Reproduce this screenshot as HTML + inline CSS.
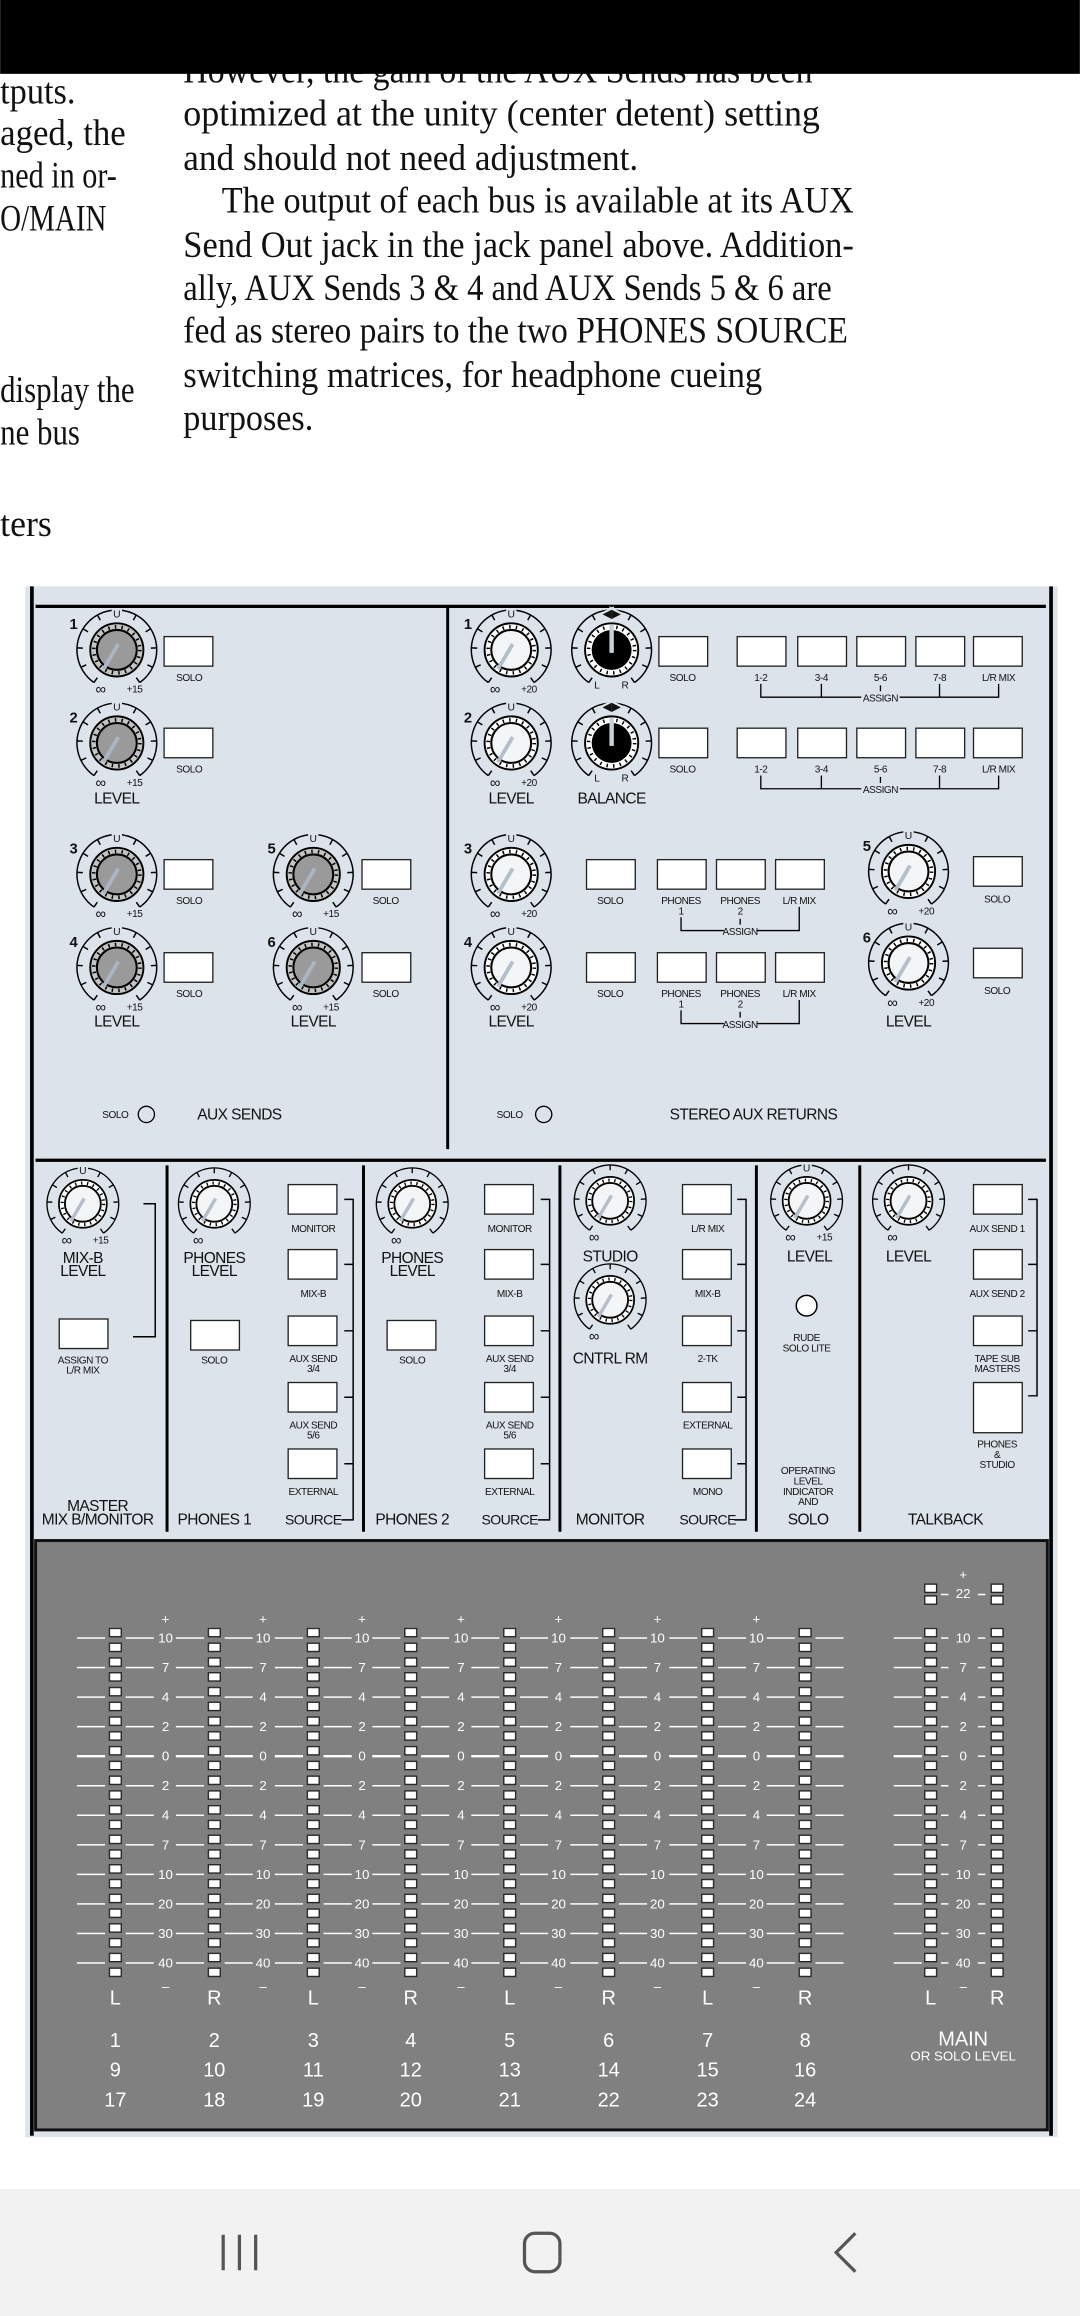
<!DOCTYPE html>
<html><head><meta charset="utf-8"><style>
html,body{margin:0;padding:0;background:#fff;}
svg{display:block;}
text{font-family:"Liberation Sans",sans-serif;}
.tx{font-family:"Liberation Serif",serif;font-size:25px;fill:#111;}
.s{font-size:6.8px;text-anchor:middle;fill:#111;letter-spacing:-0.3px;}
.m{font-size:10.5px;text-anchor:middle;fill:#111;letter-spacing:-0.4px;}
.n{font-size:10px;font-weight:bold;fill:#111;}
.u{font-size:7px;text-anchor:middle;fill:#111;paint-order:stroke;stroke:#dde3eb;stroke-width:3px;}
.w{font-size:9px;text-anchor:middle;fill:#fff;}
.wl{font-size:13.5px;text-anchor:middle;fill:#fff;}
</style></head><body>
<svg width="1080" height="2316" viewBox="0 0 731 1568" xmlns="http://www.w3.org/2000/svg">
<defs>
<g id="sc"><path d="M-15.5 22.1 A27 27 0 1 1 15.5 22.1" fill="none" stroke="#000" stroke-width="1"/><path d="M-13.2 18.8L-15.5 22.1M-20.7 10.1L-24.3 11.8M-23 -1.2L-27 -1.4M-19.5 -12.2L-22.9 -14.3M-11.2 -20.1L-13.1 -23.6M0 -23L0 -27M13.2 18.8L15.5 22.1M20.7 10.1L24.3 11.8M23 -1.2L27 -1.4M19.5 -12.2L22.9 -14.3M11.2 -20.1L13.1 -23.6" stroke="#000" stroke-width="1"/></g>
<g id="kg"><use href="#sc"/><circle r="18" fill="#c4c4c4" stroke="#000" stroke-width="1.3"/><circle r="15.6" fill="none" stroke="#000" stroke-width="2.4" stroke-dasharray="1 3.5"/><circle r="13.5" fill="#9a9a9a" stroke="#000" stroke-width="1.4"/><path d="M1 -4L-9 13" stroke="#a9b6c4" stroke-width="2.6"/></g>
<g id="kw"><use href="#sc"/><circle r="18" fill="#fff" stroke="#000" stroke-width="1.3"/><circle r="15.6" fill="none" stroke="#000" stroke-width="2.4" stroke-dasharray="1 3.5"/><circle r="13.5" fill="#f4f5f7" stroke="#000" stroke-width="1.4"/><path d="M1 -4L-9 13" stroke="#b4bfcb" stroke-width="2.6"/></g>
<g id="kb"><use href="#sc"/><circle r="18" fill="#fff" stroke="#000" stroke-width="1.3"/><circle r="15.6" fill="none" stroke="#000" stroke-width="2.4" stroke-dasharray="1 3.5"/><circle r="13.5" fill="#000"/><path d="M0 2L0 -17" stroke="#c8d0d8" stroke-width="3"/></g>
<pattern id="led" patternUnits="userSpaceOnUse" x="-4.5" y="1102" width="9" height="10"><rect x="0.5" y="0.5" width="8" height="5.6" fill="#fff" stroke="#222" stroke-width="0.9"/></pattern>
<pattern id="tk" patternUnits="userSpaceOnUse" x="0" y="1108.5" width="731" height="20"><rect x="0" y="0" width="731" height="1" fill="#fff"/></pattern>
</defs>

<!-- top text -->
<text class="tx" x="124" y="56" textLength="426" lengthAdjust="spacingAndGlyphs">However, the gain of the AUX Sends has been</text>
<rect x="0" y="0" width="731" height="50" fill="#000"/>
<text class="tx" x="0" y="70" textLength="51" lengthAdjust="spacingAndGlyphs">tputs.</text>
<text class="tx" x="0" y="98" textLength="85" lengthAdjust="spacingAndGlyphs">aged, the</text>
<text class="tx" x="0" y="127" textLength="79" lengthAdjust="spacingAndGlyphs">ned in or-</text>
<text class="tx" x="0" y="156" textLength="72" lengthAdjust="spacingAndGlyphs">O/MAIN</text>
<text class="tx" x="0" y="272" textLength="91" lengthAdjust="spacingAndGlyphs">display the</text>
<text class="tx" x="0" y="301" textLength="54" lengthAdjust="spacingAndGlyphs">ne bus</text>
<text class="tx" x="0" y="363" textLength="35" lengthAdjust="spacingAndGlyphs">ters</text>
<text class="tx" x="124" y="85" textLength="431" lengthAdjust="spacingAndGlyphs">optimized at the unity (center detent) setting</text>
<text class="tx" x="124" y="115" textLength="308" lengthAdjust="spacingAndGlyphs">and should not need adjustment.</text>
<text class="tx" x="150" y="144" textLength="428" lengthAdjust="spacingAndGlyphs">The output of each bus is available at its AUX</text>
<text class="tx" x="124" y="174" textLength="454" lengthAdjust="spacingAndGlyphs">Send Out jack in the jack panel above. Addition-</text>
<text class="tx" x="124" y="203" textLength="439" lengthAdjust="spacingAndGlyphs">ally, AUX Sends 3 &amp; 4 and AUX Sends 5 &amp; 6 are</text>
<text class="tx" x="124" y="232" textLength="450" lengthAdjust="spacingAndGlyphs">fed as stereo pairs to the two PHONES SOURCE</text>
<text class="tx" x="124" y="262" textLength="392" lengthAdjust="spacingAndGlyphs">switching matrices, for headphone cueing</text>
<text class="tx" x="124" y="291" textLength="88" lengthAdjust="spacingAndGlyphs">purposes.</text>

<!-- panel -->
<rect x="17" y="397" width="699" height="1050" fill="#dde3eb"/>
<path d="M21.5 397V1446M711.5 397V1446" stroke="#000" stroke-width="2.5"/>
<path d="M24 410.5H708M24 785.5H708" stroke="#000" stroke-width="2.2"/>
<path d="M303 411V778" stroke="#000" stroke-width="2"/>
<path d="M113 789V1037M246 789V1037M379 789V1037M512 789V1037M582 789V1037" stroke="#000" stroke-width="2"/>

<!-- AUX SENDS -->
<g fill="#fff" stroke="#222" stroke-width="0.9">
<rect x="111" y="431" width="33" height="20"/><rect x="111" y="493" width="33" height="20"/>
<rect x="111" y="582" width="33" height="20"/><rect x="111" y="645" width="33" height="20"/>
<rect x="245" y="582" width="33" height="20"/><rect x="245" y="645" width="33" height="20"/>
</g>
<use href="#kg" x="79" y="440"/><use href="#kg" x="79" y="503"/><use href="#kg" x="79" y="592"/><use href="#kg" x="79" y="655"/>
<use href="#kg" x="212" y="592"/><use href="#kg" x="212" y="655"/>
<text class="n" x="47" y="426">1</text><text class="n" x="47" y="489">2</text><text class="n" x="47" y="578">3</text><text class="n" x="47" y="641">4</text>
<text class="n" x="181" y="578">5</text><text class="n" x="181" y="641">6</text>
<text class="u" x="79" y="418">U</text><text class="u" x="79" y="481">U</text><text class="u" x="79" y="570">U</text><text class="u" x="79" y="633">U</text><text class="u" x="212" y="570">U</text><text class="u" x="212" y="633">U</text>
<g class="s"><text x="68" y="470" style="font-size:10px">∞</text><text x="91" y="469">+15</text>
<text x="68" y="533" style="font-size:10px">∞</text><text x="91" y="532">+15</text>
<text x="68" y="622" style="font-size:10px">∞</text><text x="91" y="621">+15</text>
<text x="68" y="685" style="font-size:10px">∞</text><text x="91" y="684">+15</text>
<text x="201" y="622" style="font-size:10px">∞</text><text x="224" y="621">+15</text>
<text x="201" y="685" style="font-size:10px">∞</text><text x="224" y="684">+15</text>
<text x="128" y="461">SOLO</text><text x="128" y="523">SOLO</text><text x="128" y="612">SOLO</text><text x="128" y="675">SOLO</text>
<text x="261" y="612">SOLO</text><text x="261" y="675">SOLO</text>
<text x="78" y="757">SOLO</text></g>
<text class="m" x="79" y="544">LEVEL</text><text class="m" x="79" y="695">LEVEL</text><text class="m" x="212" y="695">LEVEL</text>
<circle cx="99" cy="754.5" r="5.5" fill="none" stroke="#000" stroke-width="0.9"/>
<text class="m" x="162" y="758">AUX SENDS</text>

<!-- STEREO AUX RETURNS -->
<g fill="#fff" stroke="#222" stroke-width="0.9">
<rect x="446" y="431" width="33" height="20"/><rect x="499" y="431" width="33" height="20"/><rect x="540" y="431" width="33" height="20"/><rect x="580" y="431" width="33" height="20"/><rect x="620" y="431" width="33" height="20"/><rect x="659" y="431" width="33" height="20"/>
<rect x="446" y="493" width="33" height="20"/><rect x="499" y="493" width="33" height="20"/><rect x="540" y="493" width="33" height="20"/><rect x="580" y="493" width="33" height="20"/><rect x="620" y="493" width="33" height="20"/><rect x="659" y="493" width="33" height="20"/>
<rect x="397" y="582" width="33" height="20"/><rect x="445" y="582" width="33" height="20"/><rect x="485" y="582" width="33" height="20"/><rect x="525" y="582" width="33" height="20"/>
<rect x="397" y="645" width="33" height="20"/><rect x="445" y="645" width="33" height="20"/><rect x="485" y="645" width="33" height="20"/><rect x="525" y="645" width="33" height="20"/>
<rect x="659" y="580" width="33" height="20"/><rect x="659" y="642" width="33" height="20"/>
</g>
<use href="#kw" x="346" y="440"/><use href="#kw" x="346" y="503"/><use href="#kw" x="346" y="592"/><use href="#kw" x="346" y="655"/>
<use href="#kb" x="414" y="440"/><use href="#kb" x="414" y="503"/>
<use href="#kw" x="615" y="590"/><use href="#kw" x="615" y="652"/>
<text class="n" x="314" y="426">1</text><text class="n" x="314" y="489">2</text><text class="n" x="314" y="578">3</text><text class="n" x="314" y="641">4</text>
<text class="n" x="584" y="576">5</text><text class="n" x="584" y="638">6</text>
<text class="u" x="346" y="418">U</text><text class="u" x="346" y="481">U</text><text class="u" x="346" y="570">U</text><text class="u" x="346" y="633">U</text><text class="u" x="615" y="568">U</text><text class="u" x="615" y="630">U</text>
<text class="u" x="414" y="418" style="font-size:8px">◀▶</text><text class="u" x="414" y="481" style="font-size:8px">◀▶</text>
<g class="s"><text x="335" y="470" style="font-size:10px">∞</text><text x="358" y="469">+20</text>
<text x="335" y="533" style="font-size:10px">∞</text><text x="358" y="532">+20</text>
<text x="335" y="622" style="font-size:10px">∞</text><text x="358" y="621">+20</text>
<text x="335" y="685" style="font-size:10px">∞</text><text x="358" y="684">+20</text>
<text x="604" y="620" style="font-size:10px">∞</text><text x="627" y="619">+20</text>
<text x="604" y="682" style="font-size:10px">∞</text><text x="627" y="681">+20</text>
<text x="404" y="466">L</text><text x="423" y="466">R</text><text x="404" y="529">L</text><text x="423" y="529">R</text>
<text x="462" y="461">SOLO</text><text x="515" y="461">1-2</text><text x="556" y="461">3-4</text><text x="596" y="461">5-6</text><text x="636" y="461">7-8</text><text x="676" y="461">L/R MIX</text>
<text x="596" y="475">ASSIGN</text>
<text x="462" y="523">SOLO</text><text x="515" y="523">1-2</text><text x="556" y="523">3-4</text><text x="596" y="523">5-6</text><text x="636" y="523">7-8</text><text x="676" y="523">L/R MIX</text>
<text x="596" y="537">ASSIGN</text>
<text x="413" y="612">SOLO</text><text x="461" y="612">PHONES</text><text x="501" y="612">PHONES</text><text x="541" y="612">L/R MIX</text><text x="461" y="619">1</text><text x="501" y="619">2</text><text x="501" y="633">ASSIGN</text>
<text x="413" y="675">SOLO</text><text x="461" y="675">PHONES</text><text x="501" y="675">PHONES</text><text x="541" y="675">L/R MIX</text><text x="461" y="682">1</text><text x="501" y="682">2</text><text x="501" y="696">ASSIGN</text>
<text x="675" y="611">SOLO</text><text x="675" y="673">SOLO</text>
<text x="345" y="757">SOLO</text></g>
<g stroke="#000" stroke-width="0.9" fill="none">
<path d="M515 463V472H583M609 472H676V463M556 463V472M636 463V472M596 464V468"/>
<path d="M515 525V534H583M609 534H676V525M556 525V534M636 525V534M596 526V530"/>
<path d="M461 621V630H490M512 630H541V614M501 622V626"/>
<path d="M461 684V693H490M512 693H541V677M501 685V689"/>
</g>
<text class="m" x="346" y="544">LEVEL</text><text class="m" x="414" y="544">BALANCE</text><text class="m" x="346" y="695">LEVEL</text><text class="m" x="615" y="695">LEVEL</text>
<circle cx="368" cy="754.5" r="5.5" fill="none" stroke="#000" stroke-width="0.9"/>
<text class="m" x="510" y="758">STEREO AUX RETURNS</text>

<!-- LOWER SECTION -->
<g fill="#fff" stroke="#222" stroke-width="0.9">
<rect x="40" y="893" width="33" height="20"/>
<rect x="129" y="894" width="33" height="20"/><rect x="262" y="894" width="33" height="20"/>
<rect x="195" y="802" width="33" height="20"/><rect x="195" y="846" width="33" height="20"/><rect x="195" y="891" width="33" height="20"/><rect x="195" y="936" width="33" height="20"/><rect x="195" y="981" width="33" height="20"/>
<rect x="328" y="802" width="33" height="20"/><rect x="328" y="846" width="33" height="20"/><rect x="328" y="891" width="33" height="20"/><rect x="328" y="936" width="33" height="20"/><rect x="328" y="981" width="33" height="20"/>
<rect x="462" y="802" width="33" height="20"/><rect x="462" y="846" width="33" height="20"/><rect x="462" y="891" width="33" height="20"/><rect x="462" y="936" width="33" height="20"/><rect x="462" y="981" width="33" height="20"/>
<rect x="659" y="802" width="33" height="20"/><rect x="659" y="846" width="33" height="20"/><rect x="659" y="891" width="33" height="20"/><rect x="659" y="936" width="33" height="34"/>
</g>
<g stroke="#000" stroke-width="1" fill="none">
<path d="M97 815H105V905H90"/>
<path d="M233 812H239V1029H231M233 856H239M233 901H239M233 946H239M233 991H239"/>
<path d="M366 812H372V1029H364M366 856H372M366 901H372M366 946H372M366 991H372"/>
<path d="M499 812H505V1029H497M499 856H505M499 901H505M499 946H505M499 991H505"/>
<path d="M696 812H702V945H696M696 856H702M696 901H702"/>
</g>
<use href="#kw" transform="translate(56,815) scale(0.9)"/><use href="#kw" transform="translate(145,815) scale(0.9)"/><use href="#kw" transform="translate(279,815) scale(0.9)"/>
<use href="#kw" transform="translate(413,813) scale(0.9)"/><use href="#kw" transform="translate(413,880) scale(0.9)"/><use href="#kw" transform="translate(546,813) scale(0.9)"/><use href="#kw" transform="translate(615,813) scale(0.9)"/>
<text class="u" x="56" y="795">U</text><text class="u" x="546" y="793">U</text>
<g class="s"><text x="45" y="843" style="font-size:10px">∞</text><text x="68" y="842">+15</text>
<text x="134" y="843" style="font-size:10px">∞</text><text x="268" y="843" style="font-size:10px">∞</text>
<text x="402" y="841" style="font-size:10px">∞</text><text x="402" y="908" style="font-size:10px">∞</text>
<text x="535" y="841" style="font-size:10px">∞</text><text x="558" y="840">+15</text>
<text x="604" y="841" style="font-size:10px">∞</text>
<text x="56" y="923">ASSIGN TO</text><text x="56" y="930">L/R MIX</text>
<text x="145" y="923">SOLO</text><text x="279" y="923">SOLO</text>
<text x="212" y="834">MONITOR</text><text x="212" y="878">MIX-B</text><text x="212" y="922">AUX SEND</text><text x="212" y="929">3/4</text><text x="212" y="967">AUX SEND</text><text x="212" y="974">5/6</text><text x="212" y="1012">EXTERNAL</text>
<text x="345" y="834">MONITOR</text><text x="345" y="878">MIX-B</text><text x="345" y="922">AUX SEND</text><text x="345" y="929">3/4</text><text x="345" y="967">AUX SEND</text><text x="345" y="974">5/6</text><text x="345" y="1012">EXTERNAL</text>
<text x="479" y="834">L/R MIX</text><text x="479" y="878">MIX-B</text><text x="479" y="922">2-TK</text><text x="479" y="967">EXTERNAL</text><text x="479" y="1012">MONO</text>
<text x="546" y="908">RUDE</text><text x="546" y="915">SOLO LITE</text>
<text x="547" y="998">OPERATING</text><text x="547" y="1005">LEVEL</text><text x="547" y="1012">INDICATOR</text><text x="547" y="1019">AND</text>
<text x="675" y="834">AUX SEND 1</text><text x="675" y="878">AUX SEND 2</text><text x="675" y="922">TAPE SUB</text><text x="675" y="929">MASTERS</text>
<text x="675" y="980">PHONES</text><text x="675" y="987">&amp;</text><text x="675" y="994">STUDIO</text></g>
<circle cx="546" cy="884" r="7" fill="#fff" stroke="#000" stroke-width="1"/>
<g class="m"><text x="56" y="855">MIX-B</text><text x="56" y="864">LEVEL</text>
<text x="145" y="855">PHONES</text><text x="145" y="864">LEVEL</text>
<text x="279" y="855">PHONES</text><text x="279" y="864">LEVEL</text>
<text x="413" y="854">STUDIO</text><text x="413" y="923">CNTRL RM</text>
<text x="548" y="854">LEVEL</text><text x="615" y="854">LEVEL</text>
<text x="66" y="1023">MASTER</text><text x="66" y="1032">MIX B/MONITOR</text>
<text x="145" y="1032">PHONES 1</text><text x="212" y="1032" style="font-size:9.5px">SOURCE</text>
<text x="279" y="1032">PHONES 2</text><text x="345" y="1032" style="font-size:9.5px">SOURCE</text>
<text x="413" y="1032">MONITOR</text><text x="479" y="1032" style="font-size:9.5px">SOURCE</text>
<text x="547" y="1032">SOLO</text><text x="640" y="1032">TALKBACK</text></g>

<!-- METERS -->
<rect x="24" y="1043" width="685" height="399" fill="#808080" stroke="#111" stroke-width="2"/>
<g fill="url(#tk)">
<rect x="52" y="1108" width="19" height="224"/><rect x="85" y="1108" width="19" height="224"/>
<rect x="119" y="1108" width="19" height="224"/><rect x="152" y="1108" width="19" height="224"/>
<rect x="186" y="1108" width="19" height="224"/><rect x="219" y="1108" width="19" height="224"/>
<rect x="252" y="1108" width="19" height="224"/><rect x="285" y="1108" width="19" height="224"/>
<rect x="319" y="1108" width="19" height="224"/><rect x="352" y="1108" width="19" height="224"/>
<rect x="386" y="1108" width="19" height="224"/><rect x="419" y="1108" width="19" height="224"/>
<rect x="453" y="1108" width="19" height="224"/><rect x="486" y="1108" width="19" height="224"/>
<rect x="519" y="1108" width="19" height="224"/><rect x="552" y="1108" width="19" height="224"/>
<rect x="605" y="1108" width="19" height="224"/><rect x="637" y="1108" width="5" height="224"/><rect x="662" y="1108" width="5" height="224"/>
</g>
<path d="M52 1189H71M85 1189H104M119 1189H138M152 1189H171M186 1189H205M219 1189H238M252 1189H271M285 1189H304M319 1189H338M352 1189H371M386 1189H405M419 1189H438M453 1189H472M486 1189H505M519 1189H538M552 1189H571M605 1189H624" stroke="#fff" stroke-width="1.6"/>
<path d="M637 1079.5H642M662 1079.5H667" stroke="#fff" stroke-width="1"/>
<g transform="translate(78,0)"><rect x="-4.5" y="1102" width="9" height="238" fill="url(#led)"/></g>
<g transform="translate(145,0)"><rect x="-4.5" y="1102" width="9" height="238" fill="url(#led)"/></g>
<g transform="translate(212,0)"><rect x="-4.5" y="1102" width="9" height="238" fill="url(#led)"/></g>
<g transform="translate(278,0)"><rect x="-4.5" y="1102" width="9" height="238" fill="url(#led)"/></g>
<g transform="translate(345,0)"><rect x="-4.5" y="1102" width="9" height="238" fill="url(#led)"/></g>
<g transform="translate(412,0)"><rect x="-4.5" y="1102" width="9" height="238" fill="url(#led)"/></g>
<g transform="translate(479,0)"><rect x="-4.5" y="1102" width="9" height="238" fill="url(#led)"/></g>
<g transform="translate(545,0)"><rect x="-4.5" y="1102" width="9" height="238" fill="url(#led)"/></g>
<g transform="translate(630,0)"><rect x="-4.5" y="1102" width="9" height="238" fill="url(#led)"/><rect x="-4" y="1072.5" width="8" height="5.6" fill="#fff" stroke="#222" stroke-width="0.9"/><rect x="-4" y="1080.5" width="8" height="5.6" fill="#fff" stroke="#222" stroke-width="0.9"/></g>
<g transform="translate(675,0)"><rect x="-4.5" y="1102" width="9" height="238" fill="url(#led)"/><rect x="-4" y="1072.5" width="8" height="5.6" fill="#fff" stroke="#222" stroke-width="0.9"/><rect x="-4" y="1080.5" width="8" height="5.6" fill="#fff" stroke="#222" stroke-width="0.9"/></g>
<g class="w">
<text x="112" y="1099">+</text><text x="178" y="1099">+</text><text x="245" y="1099">+</text><text x="312" y="1099">+</text><text x="378" y="1099">+</text><text x="445" y="1099">+</text><text x="512" y="1099">+</text><text x="652" y="1069">+</text>
<text x="652" y="1082">22</text>
<text x="112" y="1348">–</text><text x="178" y="1348">–</text><text x="245" y="1348">–</text><text x="312" y="1348">–</text><text x="378" y="1348">–</text><text x="445" y="1348">–</text><text x="512" y="1348">–</text><text x="652" y="1348">–</text>
<text y="1112"><tspan x="112">10</tspan><tspan x="112" dy="20">7</tspan><tspan x="112" dy="20">4</tspan><tspan x="112" dy="20">2</tspan><tspan x="112" dy="20">0</tspan><tspan x="112" dy="20">2</tspan><tspan x="112" dy="20">4</tspan><tspan x="112" dy="20">7</tspan><tspan x="112" dy="20">10</tspan><tspan x="112" dy="20">20</tspan><tspan x="112" dy="20">30</tspan><tspan x="112" dy="20">40</tspan></text>
<text y="1112"><tspan x="178">10</tspan><tspan x="178" dy="20">7</tspan><tspan x="178" dy="20">4</tspan><tspan x="178" dy="20">2</tspan><tspan x="178" dy="20">0</tspan><tspan x="178" dy="20">2</tspan><tspan x="178" dy="20">4</tspan><tspan x="178" dy="20">7</tspan><tspan x="178" dy="20">10</tspan><tspan x="178" dy="20">20</tspan><tspan x="178" dy="20">30</tspan><tspan x="178" dy="20">40</tspan></text>
<text y="1112"><tspan x="245">10</tspan><tspan x="245" dy="20">7</tspan><tspan x="245" dy="20">4</tspan><tspan x="245" dy="20">2</tspan><tspan x="245" dy="20">0</tspan><tspan x="245" dy="20">2</tspan><tspan x="245" dy="20">4</tspan><tspan x="245" dy="20">7</tspan><tspan x="245" dy="20">10</tspan><tspan x="245" dy="20">20</tspan><tspan x="245" dy="20">30</tspan><tspan x="245" dy="20">40</tspan></text>
<text y="1112"><tspan x="312">10</tspan><tspan x="312" dy="20">7</tspan><tspan x="312" dy="20">4</tspan><tspan x="312" dy="20">2</tspan><tspan x="312" dy="20">0</tspan><tspan x="312" dy="20">2</tspan><tspan x="312" dy="20">4</tspan><tspan x="312" dy="20">7</tspan><tspan x="312" dy="20">10</tspan><tspan x="312" dy="20">20</tspan><tspan x="312" dy="20">30</tspan><tspan x="312" dy="20">40</tspan></text>
<text y="1112"><tspan x="378">10</tspan><tspan x="378" dy="20">7</tspan><tspan x="378" dy="20">4</tspan><tspan x="378" dy="20">2</tspan><tspan x="378" dy="20">0</tspan><tspan x="378" dy="20">2</tspan><tspan x="378" dy="20">4</tspan><tspan x="378" dy="20">7</tspan><tspan x="378" dy="20">10</tspan><tspan x="378" dy="20">20</tspan><tspan x="378" dy="20">30</tspan><tspan x="378" dy="20">40</tspan></text>
<text y="1112"><tspan x="445">10</tspan><tspan x="445" dy="20">7</tspan><tspan x="445" dy="20">4</tspan><tspan x="445" dy="20">2</tspan><tspan x="445" dy="20">0</tspan><tspan x="445" dy="20">2</tspan><tspan x="445" dy="20">4</tspan><tspan x="445" dy="20">7</tspan><tspan x="445" dy="20">10</tspan><tspan x="445" dy="20">20</tspan><tspan x="445" dy="20">30</tspan><tspan x="445" dy="20">40</tspan></text>
<text y="1112"><tspan x="512">10</tspan><tspan x="512" dy="20">7</tspan><tspan x="512" dy="20">4</tspan><tspan x="512" dy="20">2</tspan><tspan x="512" dy="20">0</tspan><tspan x="512" dy="20">2</tspan><tspan x="512" dy="20">4</tspan><tspan x="512" dy="20">7</tspan><tspan x="512" dy="20">10</tspan><tspan x="512" dy="20">20</tspan><tspan x="512" dy="20">30</tspan><tspan x="512" dy="20">40</tspan></text>
<text y="1112"><tspan x="652">10</tspan><tspan x="652" dy="20">7</tspan><tspan x="652" dy="20">4</tspan><tspan x="652" dy="20">2</tspan><tspan x="652" dy="20">0</tspan><tspan x="652" dy="20">2</tspan><tspan x="652" dy="20">4</tspan><tspan x="652" dy="20">7</tspan><tspan x="652" dy="20">10</tspan><tspan x="652" dy="20">20</tspan><tspan x="652" dy="20">30</tspan><tspan x="652" dy="20">40</tspan></text>
</g>
<g class="wl">
<text x="78" y="1357">L</text><text x="145" y="1357">R</text><text x="212" y="1357">L</text><text x="278" y="1357">R</text><text x="345" y="1357">L</text><text x="412" y="1357">R</text><text x="479" y="1357">L</text><text x="545" y="1357">R</text><text x="630" y="1357">L</text><text x="675" y="1357">R</text>
<text x="78" y="1386">1</text><text x="145" y="1386">2</text><text x="212" y="1386">3</text><text x="278" y="1386">4</text><text x="345" y="1386">5</text><text x="412" y="1386">6</text><text x="479" y="1386">7</text><text x="545" y="1386">8</text>
<text x="78" y="1406">9</text><text x="145" y="1406">10</text><text x="212" y="1406">11</text><text x="278" y="1406">12</text><text x="345" y="1406">13</text><text x="412" y="1406">14</text><text x="479" y="1406">15</text><text x="545" y="1406">16</text>
<text x="78" y="1426">17</text><text x="145" y="1426">18</text><text x="212" y="1426">19</text><text x="278" y="1426">20</text><text x="345" y="1426">21</text><text x="412" y="1426">22</text><text x="479" y="1426">23</text><text x="545" y="1426">24</text>
<text x="652" y="1385">MAIN</text><text x="652" y="1395" style="font-size:9px">OR SOLO LEVEL</text>
</g>

<!-- nav bar -->
<rect x="0" y="1482" width="731" height="86" fill="#f2f2f2"/>
<path d="M151 1513V1537M162 1513V1537M173 1513V1537" stroke="#555" stroke-width="2.2"/>
<rect x="355" y="1512" width="24" height="26" rx="7" fill="none" stroke="#555" stroke-width="2.2"/>
<path d="M579 1512L566 1525L579 1538" fill="none" stroke="#555" stroke-width="2.2"/>
</svg>
</body></html>
